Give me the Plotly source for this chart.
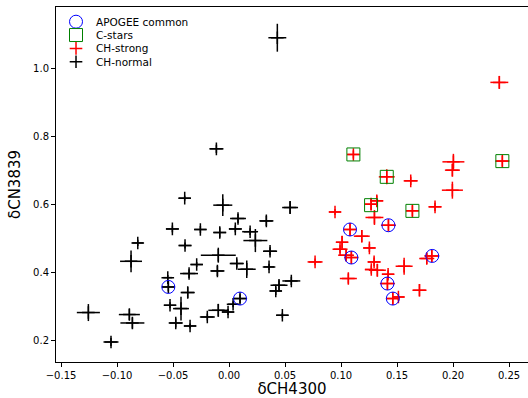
import plotly.graph_objects as go

# CH-normal (black)
norm_x = [0.0431, -0.0113, -0.0396, -0.0056, 0.0080, 0.0333, -0.0506, -0.0256, -0.0083, 0.0056,
          0.0188, 0.0235, -0.0393, -0.0815, -0.0875, -0.0096, -0.0289, -0.0357, -0.0104, 0.0069,
          0.0158, -0.0547, -0.0542, -0.0369, -0.0527, -0.0429, -0.0476, -0.0348, -0.0194, -0.0096,
          -0.0009, 0.0098, 0.0036, 0.0366, 0.0357, 0.0417, 0.0446, 0.0556, 0.0476, 0.0545,
          -0.1256, -0.0890, -0.0863, -0.1054]
norm_y = [1.090, 0.7635, 0.6186, 0.598, 0.5588, 0.5518, 0.5282, 0.5265, 0.5176, 0.5282,
          0.520, 0.494, 0.4794, 0.487, 0.433, 0.451, 0.4235, 0.397, 0.4047, 0.4265,
          0.4097, 0.385, 0.3577, 0.3412, 0.3038, 0.294, 0.2518, 0.243, 0.2694, 0.289,
          0.284, 0.3235, 0.3068, 0.4626, 0.4165, 0.3459, 0.3626, 0.3753, 0.2744, 0.591,
          0.2824, 0.2765, 0.2518, 0.1959]
norm_ex = [0.0080, 0.0063, 0.0054, 0.0085, 0.0071, 0.0063, 0.0058, 0.0054, 0.0058, 0.0058,
           0.0071, 0.0107, 0.0058, 0.0049, 0.0098, 0.0156, 0.0054, 0.0080, 0.0063, 0.0063,
           0.0080, 0.0040, 0.0058, 0.0063, 0.0054, 0.0071, 0.0063, 0.0054, 0.0067, 0.0089,
           0.0054, 0.0063, 0.0045, 0.0063, 0.0045, 0.0054, 0.0076, 0.0080, 0.0054, 0.0071,
           0.0103, 0.0094, 0.0107, 0.0067]
norm_ey = [0.041, 0.012, 0.0074, 0.032, 0.013, 0.015, 0.010, 0.010, 0.015, 0.010,
           0.010, 0.034, 0.009, 0.009, 0.032, 0.022, 0.0074, 0.013, 0.015, 0.012,
           0.026, 0.0074, 0.013, 0.016, 0.009, 0.035, 0.013, 0.0074, 0.010, 0.019,
           0.009, 0.013, 0.009, 0.012, 0.009, 0.012, 0.015, 0.012, 0.0074, 0.019,
           0.025, 0.016, 0.016, 0.012]

# CH-strong (red)
strong_x = [0.2413, 0.2440, 0.2003, 0.1994, 0.1994, 0.1622, 0.1408, 0.1637, 0.1839, 0.1423,
            0.1268, 0.1319, 0.1298, 0.1080, 0.1185, 0.1009, 0.0991, 0.1253, 0.0946, 0.1110,
            0.1045, 0.1092, 0.0768, 0.1295, 0.1270, 0.1324, 0.1420, 0.1563, 0.1810, 0.1765,
            0.1414, 0.1700, 0.1462, 0.1512, 0.1065]
strong_y = [0.9588, 0.7274, 0.7253, 0.7009, 0.642, 0.6694, 0.6812, 0.5812, 0.593, 0.539,
            0.6009, 0.6106, 0.5618, 0.5265, 0.5068, 0.489, 0.4685, 0.4724, 0.578, 0.747,
            0.4509, 0.4441, 0.4312, 0.4312, 0.4088, 0.4068, 0.395, 0.4185, 0.4488, 0.4412,
            0.3676, 0.348, 0.3235, 0.3282, 0.3824]
strong_ex = [0.0080, 0.0063, 0.0098, 0.0067, 0.0094, 0.0063, 0.0071, 0.0058, 0.0058, 0.0067,
             0.0054, 0.0058, 0.0080, 0.0058, 0.0071, 0.0054, 0.0067, 0.0054, 0.0054, 0.0054,
             0.0071, 0.0063, 0.0067, 0.0058, 0.0058, 0.0076, 0.0054, 0.0076, 0.0067, 0.0067,
             0.0067, 0.0063, 0.0058, 0.0054, 0.0076]
strong_ey = [0.019, 0.016, 0.0235, 0.019, 0.025, 0.012, 0.022, 0.016, 0.012, 0.016,
             0.018, 0.016, 0.022, 0.019, 0.018, 0.019, 0.012, 0.012, 0.009, 0.012,
             0.015, 0.019, 0.010, 0.013, 0.012, 0.019, 0.012, 0.025, 0.018, 0.016,
             0.019, 0.018, 0.019, 0.010, 0.015]

# APOGEE common (blue open circles)
apo_x = [-0.0542, 0.0098, 0.1080, 0.1092, 0.1423, 0.1414, 0.1462, 0.1814]
apo_y = [0.3577, 0.3235, 0.5265, 0.4441, 0.539, 0.3676, 0.3235, 0.4488]

# C-stars (green open squares)
cst_x = [0.1110, 0.1408, 0.1268, 0.1637, 0.2440]
cst_y = [0.747, 0.6812, 0.598, 0.5812, 0.7274]

x_ticks = [-0.15, -0.10, -0.05, 0.00, 0.05, 0.10, 0.15, 0.20, 0.25]
y_ticks = [0.2, 0.4, 0.6, 0.8, 1.0]

legend_labels = ["APOGEE common", "C-stars", "CH-strong", "CH-normal"]

FONT = "DejaVu Sans"

# series styles (label -> marker style)
styles = {
    "APOGEE common": dict(symbol="circle-open", size=13, color="blue", line=dict(color="blue", width=1)),
    "C-stars": dict(symbol="square-open", size=13, color="green", line=dict(color="green", width=1)),
    "CH-strong": dict(symbol="cross-thin-open", size=9, color="red", line=dict(color="red", width=1.5)),
    "CH-normal": dict(symbol="cross-thin-open", size=9, color="black", line=dict(color="black", width=1.5)),
}

fig = go.Figure()

fig.add_trace(go.Scatter(
    x=norm_x, y=norm_y, mode="markers", name="CH-normal", showlegend=False,
    marker=styles["CH-normal"],
    error_x=dict(type="data", array=norm_ex, color="black", thickness=1.5, width=0),
    error_y=dict(type="data", array=norm_ey, color="black", thickness=1.5, width=0),
))
fig.add_trace(go.Scatter(
    x=strong_x, y=strong_y, mode="markers", name="CH-strong", showlegend=False,
    marker=styles["CH-strong"],
    error_x=dict(type="data", array=strong_ex, color="red", thickness=1.5, width=0),
    error_y=dict(type="data", array=strong_ey, color="red", thickness=1.5, width=0),
))
fig.add_trace(go.Scatter(
    x=apo_x, y=apo_y, mode="markers", name="APOGEE common", showlegend=False,
    marker=styles["APOGEE common"],
))
fig.add_trace(go.Scatter(
    x=cst_x, y=cst_y, mode="markers", name="C-stars", showlegend=False,
    marker=styles["C-stars"],
))

# compact legend (matplotlib-like spacing) drawn on an overlay axis spanning the plot area
leg_key_x = 0.0424
leg_text_x = 0.0815
leg_top = 0.9586
leg_step = 0.0376
for i, lab in enumerate(legend_labels):
    yy = leg_top - i * leg_step
    fig.add_trace(go.Scatter(
        x=[leg_key_x], y=[yy], xaxis="x2", yaxis="y2", mode="markers",
        marker=styles[lab], showlegend=False, hoverinfo="skip",
    ))
    fig.add_annotation(
        x=leg_text_x, y=yy, xref="paper", yref="paper", text=lab, showarrow=False,
        xanchor="left", yanchor="middle", font=dict(family=FONT, size=10.5, color="black"),
    )

fig.update_layout(
    width=528, height=398,
    margin=dict(l=56, r=0, t=7, b=36),
    paper_bgcolor="white", plot_bgcolor="white",
    font=dict(family=FONT, size=10, color="black"),
    showlegend=False,
    xaxis2=dict(overlaying="x", range=[0, 1], visible=False, fixedrange=True),
    yaxis2=dict(overlaying="y", range=[0, 1], visible=False, fixedrange=True),
)
fig.update_layout(
    xaxis=dict(
        range=[-0.1545, 0.2669], tickvals=x_ticks, tickformat=".2f",
        showline=True, linecolor="black", linewidth=1, mirror=True,
        ticks="outside", ticklen=4, tickwidth=1, tickcolor="black",
        showgrid=False, zeroline=False,
        tickfont=dict(family=FONT, size=10, color="black"),
        title=dict(text="δCH4300", font=dict(family=FONT, size=15, color="black"), standoff=4),
    ),
    yaxis=dict(
        range=[0.1371, 1.1803], tickvals=y_ticks, tickformat=".1f",
        showline=True, linecolor="black", linewidth=1, mirror=False,
        ticks="outside", ticklen=4, tickwidth=1, tickcolor="black",
        showgrid=False, zeroline=False,
        tickfont=dict(family=FONT, size=10, color="black"),
        title=dict(text="δCN3839", font=dict(family=FONT, size=15, color="black"), standoff=8),
    ),
)

fig.write_html("out.html")
